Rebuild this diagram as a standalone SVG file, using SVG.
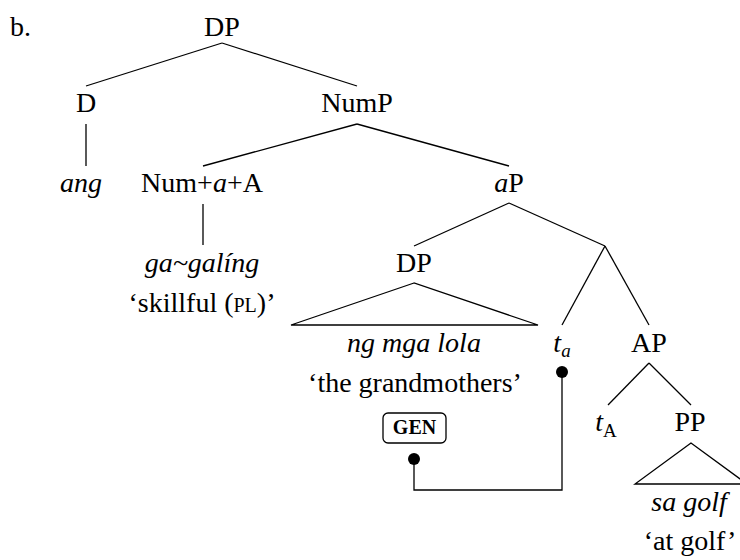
<svg xmlns="http://www.w3.org/2000/svg" width="740" height="560" viewBox="0 0 740 560">
<style>
text{font-family:"Liberation Serif","Times New Roman",serif;font-size:28px;fill:#000;text-anchor:middle}
.i{font-style:italic}
.sc{font-size:20px}
.sub{font-size:19px}
.gen{font-size:20px;font-weight:bold}
.e{stroke:#000;stroke-width:1.3;fill:none}
.tri{stroke:#000;stroke-width:1.3;fill:none;stroke-linejoin:miter}
</style>
<rect width="740" height="560" fill="#fff"/>
<g id="label-b"><text x="10" y="36" style="text-anchor:start">b.</text></g>
<g id="connectors" class="e">
<line x1="222" y1="43" x2="86" y2="86"/>
<line x1="222" y1="43" x2="357" y2="86"/>
<line x1="86" y1="124" x2="86" y2="166"/>
<line x1="357" y1="124" x2="203" y2="166"/>
<line x1="357" y1="124" x2="509" y2="166"/>
<line x1="203" y1="204" x2="203" y2="245"/>
<line x1="509" y1="203" x2="414" y2="246"/>
<line x1="509" y1="203" x2="605" y2="246"/>
<line x1="605" y1="246" x2="562" y2="325"/>
<line x1="605" y1="246" x2="649" y2="325"/>
<line x1="649" y1="363" x2="608" y2="405"/>
<line x1="649" y1="363" x2="691" y2="405"/>
<polyline points="414,459 414,490 562,490 562,372"/>
<circle cx="414" cy="459" r="6" fill="#000" stroke="none"/>
<circle cx="562" cy="372" r="6" fill="#000" stroke="none"/>
</g>
<g id="n-DP"><text x="222" y="36">DP</text></g>
<g id="n-D"><text x="86" y="112">D</text></g>
<g id="n-ang"><text x="81" y="192" class="i">ang</text></g>
<g id="n-NumP"><text x="357" y="112">NumP</text></g>
<g id="n-NumaA"><text x="202" y="192">Num+<tspan class="i">a</tspan>+A</text></g>
<g id="n-gagaling"><text x="202" y="272" class="i">ga~galíng</text><text x="202" y="312">‘skillful (<tspan class="sc">PL</tspan>)’</text></g>
<g id="n-aP"><text x="509" y="192"><tspan class="i">a</tspan>P</text></g>
<g id="n-DP2"><text x="414" y="272">DP</text>
<polygon class="tri" points="414,283 291,325 538,325"/>
<text x="414" y="352" class="i">ng mga lola</text>
<text x="415" y="392">‘the grandmothers’</text></g>
<g id="n-GEN"><rect x="383" y="413" width="63" height="30" rx="5" class="e"/><text x="414.5" y="434" class="gen">GEN</text></g>
<g id="n-ta"><text x="562" y="352"><tspan class="i">t</tspan><tspan class="i sub" dy="5">a</tspan></text></g>
<g id="n-AP"><text x="649" y="352">AP</text></g>
<g id="n-tA"><text x="606" y="431"><tspan class="i">t</tspan><tspan class="sub" dy="6">A</tspan></text></g>
<g id="n-PP"><text x="690" y="431">PP</text>
<polygon class="tri" points="691,443 635,484 747,484"/>
<text x="689" y="511" class="i">sa golf</text>
<text x="690" y="550">‘at golf’</text></g>
</svg>
